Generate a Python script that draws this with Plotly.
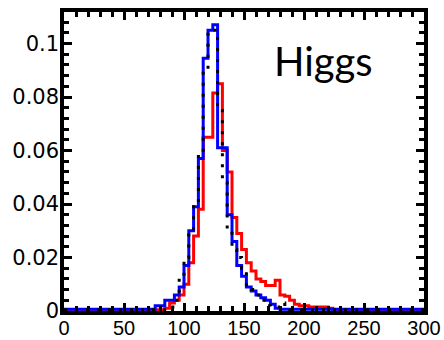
import plotly.graph_objects as go

# Bin edges of the histograms (width 4, 0..300)
bin_edges = list(range(0, 304, 4))

# Per-bin fractions
blue_vals = [
    0.0007, 0.0007, 0.0007, 0.0007, 0.0007, 0.0007, 0.0007, 0.0007, 0.0007, 0.0007,
    0.0007, 0.0007, 0.0007, 0.0007, 0.0007, 0.0007, 0.0007, 0.0007, 0.0007,  # 0..72
    0.002, 0.002, 0.004, 0.004, 0.006, 0.009, 0.017, 0.030, 0.039, 0.057,   # 76..112
    0.0945, 0.105, 0.107, 0.061, 0.061, 0.036, 0.026, 0.017, 0.013, 0.009,  # 116..152
    0.0075, 0.006, 0.005, 0.004, 0.0025, 0.001,                             # 156..176
    0.0007, 0.0007, 0.0007, 0.0007, 0.0007, 0.0007, 0.0007, 0.0007, 0.0007, 0.0007,
    0.0007, 0.0007, 0.0007, 0.0007, 0.0007, 0.0007, 0.0007, 0.0007, 0.0007, 0.0007,
    0.0007, 0.0007, 0.0007, 0.0007, 0.0007, 0.0007, 0.0007, 0.0007, 0.0007, 0.0007,  # 180..296
]

red_vals = [
    0.0005, 0.0005, 0.0005, 0.0005, 0.0005, 0.0005, 0.0005, 0.0005, 0.0005, 0.0005,
    0.0005, 0.0005, 0.0005, 0.0005, 0.0005, 0.0005, 0.0005, 0.0005, 0.0005, 0.0005,
    0.0005,                                                                  # 0..80
    0.001, 0.003, 0.004, 0.006, 0.010, 0.018, 0.028, 0.038, 0.065, 0.065,   # 84..120
    0.0815, 0.085, 0.060, 0.052, 0.035, 0.029, 0.023, 0.018, 0.015, 0.012,  # 124..160
    0.011, 0.0095, 0.0095, 0.0115, 0.006, 0.0055, 0.004, 0.0025, 0.002, 0.002,  # 164..200
    0.0015, 0.0015, 0.0015, 0.0015, 0.001,                                   # 204..220
    0.0005, 0.0005, 0.0005, 0.0005, 0.0005, 0.0005, 0.0005, 0.0005, 0.0005, 0.0005,
    0.0005, 0.0005, 0.0005, 0.0005, 0.0005, 0.0005, 0.0005, 0.0005, 0.0005,  # 224..296
]

black_vals = [
    0.0005, 0.0005, 0.0005, 0.0005, 0.0005, 0.0005, 0.0005, 0.0005, 0.0005, 0.0005,
    0.0005, 0.0005, 0.0005, 0.0005, 0.0005, 0.0005, 0.0005, 0.0005, 0.0005, 0.0005,
    0.0005, 0.0005,                                                          # 0..84
    0.0015, 0.004, 0.0128, 0.020, 0.030, 0.040, 0.059, 0.090, 0.105, 0.105, # 88..124
    0.075, 0.048, 0.030, 0.023, 0.020, 0.016, 0.009, 0.008, 0.006, 0.004,   # 128..164
    0.002, 0.0015, 0.0015, 0.003, 0.001,                                     # 168..184
    0.0005, 0.0005, 0.0005, 0.0005, 0.0005, 0.0005, 0.0005, 0.0005, 0.0005, 0.0005,
    0.0005, 0.0005, 0.0005, 0.0005, 0.0005, 0.0005, 0.0005, 0.0005, 0.0005, 0.0005,
    0.0005, 0.0005, 0.0005, 0.0005, 0.0005, 0.0005, 0.0005, 0.0005,          # 188..296
]

label_text = "Higgs"


def step(vals):
    return bin_edges, vals + [vals[-1]]


fig = go.Figure()
for vals, color, dash in [(red_vals, "#ff0000", "solid"),
                          (blue_vals, "#0000ff", "solid"),
                          (black_vals, "#000000", "3px,8px")]:
    x, y = step(vals)
    fig.add_trace(go.Scatter(x=x, y=y, mode="lines", line_shape="hv",
                             line=dict(color=color, width=3, dash=dash),
                             hoverinfo="skip"))

fig.add_annotation(x=216.5, y=0.0935, xref="x", yref="y", text=label_text,
                   showarrow=False, xanchor="center", yanchor="middle",
                   font=dict(family="Lato", size=40, color="black"))

axis_common = dict(showline=True, linecolor="black", linewidth=3.5,
                   mirror="allticks", ticks="inside", ticklen=8, tickwidth=3,
                   tickcolor="black", showgrid=False, zeroline=False,
                   automargin=False)

fig.update_xaxes(range=[0, 300], tick0=0, dtick=50, **axis_common,
                 ticklabelstandoff=-4,
                 tickfont=dict(family="Liberation Sans", size=20, color="black"),
                 minor=dict(dtick=10, ticks="inside", ticklen=5, tickwidth=2.5,
                            tickcolor="black", showgrid=False))
fig.update_yaxes(range=[0, 0.1118], tick0=0, dtick=0.02, **axis_common,
                 ticklabelstandoff=-3,
                 tickfont=dict(family="DejaVu Sans", size=21, color="black"),
                 minor=dict(dtick=0.004, ticks="inside", ticklen=5, tickwidth=2.5,
                            tickcolor="black", showgrid=False))

fig.update_layout(width=444, height=340, margin=dict(l=64, r=20, t=12, b=29),
                  plot_bgcolor="white", paper_bgcolor="white", showlegend=False)

fig.write_html("out.html")
